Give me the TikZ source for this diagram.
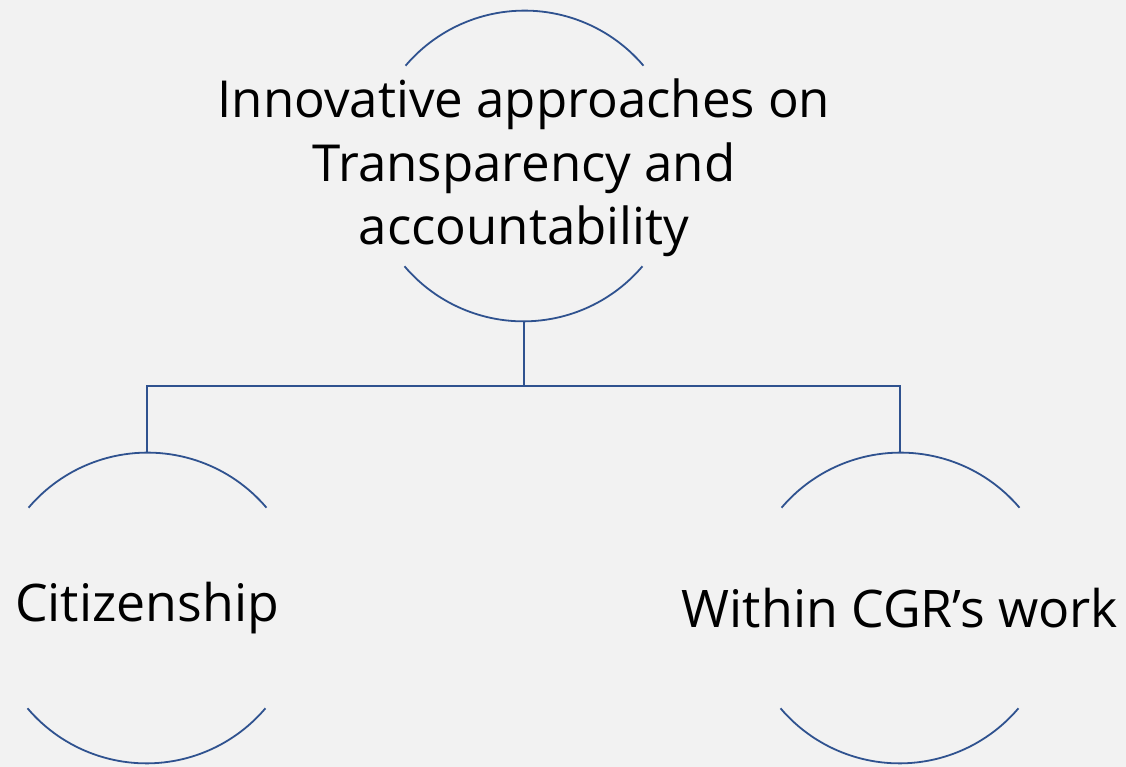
\documentclass[tikz,border=0pt]{standalone}
\usepackage{fontspec}
\setmainfont{Open Sans}
\usetikzlibrary{positioning}
\definecolor{rimblue}{HTML}{2F528F}
\definecolor{paper}{HTML}{F2F2F2}
\begin{document}
\begin{tikzpicture}[x=1pt, y=1pt,
    ring/.style={circle, minimum size=312pt, inner sep=0pt, outer sep=0pt},
    rim/.style={draw=rimblue, line width=1.8pt},
    toptext/.style={align=center, font=\fontsize{51}{63.5}\selectfont},
    leaftext/.style={font=\fontsize{51.8}{62}\selectfont}]
      \fill[paper] (0, 0) rectangle (1126, 767);
      \useasboundingbox (0, 0) rectangle (1126, 767);
      \node (apx)[ring] at (524, 601) {};
      \node (cit)[ring] at (147, 159) {};
      \node (cgr)[ring] at (900, 159) {};
      \coordinate (bus) at (524, 381);
      \node (apxtext)[toptext, yshift=-2pt] at (apx) {Innovative approaches on\\Transparency and\\accountability};
      \node (cittext)[leaftext] at (cit) {Citizenship};
      \node (cgrtext)[leaftext] at (cgr) {Within CGR’s work};
      \foreach \c in {apx, cit, cgr} {
        \draw[rim] (\c.40.3) arc[start angle=40.3, end angle=139.7, radius=156pt];
        \draw[rim] (\c.220.3) arc[start angle=220.3, end angle=319.7, radius=156pt];
      }
      \draw[rim] (apx.south) -- (bus);
      \draw[rim] (bus) -| (cit.north);
      \draw[rim] (bus) -| (cgr.north);
    \end{tikzpicture}
\end{document}
